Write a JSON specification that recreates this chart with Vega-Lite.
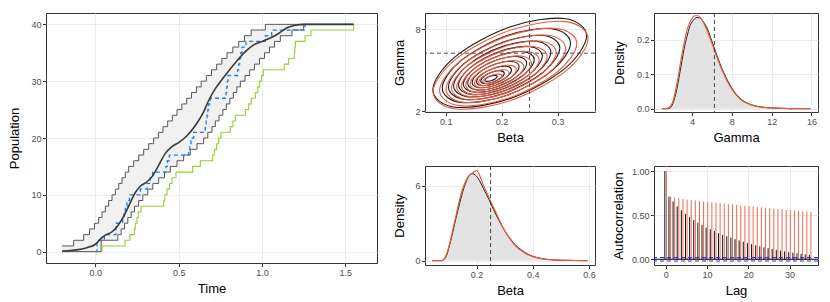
{
"$schema": "https://vega.github.io/schema/vega-lite/v6.json",
"padding": {"left": 8, "top": 12, "right": 3, "bottom": 3},
"config": {
 "font": "Liberation Sans",
 "view": {"stroke": "#333333", "strokeWidth": 1},
 "axis": {"domain": false, "grid": true, "gridColor": "#ebebeb", "gridWidth": 1, "tickColor": "#333333", "tickSize": 3.5, "tickWidth": 1, "labelFont": "Liberation Sans", "labelFontSize": 9, "labelColor": "#4d4d4d", "labelPadding": 1.5, "labelOverlap": false, "labelBound": false, "labelFlush": false, "titleFont": "Liberation Sans", "titleFontSize": 13, "titleFontWeight": "normal", "titleColor": "#000000", "titlePadding": 5}
},
"datasets": {
 "bounds": [
  {"x":-0.2,"hi":1,"lo":0},{"x":-0.13,"hi":2,"lo":0},{"x":-0.07,"hi":3,"lo":0},{"x":-0.035,"hi":4,"lo":0},{"x":-0.005,"hi":5,"lo":0},{"x":0.02,"hi":6,"lo":0},{"x":0.035,"hi":6,"lo":2},{"x":0.04,"hi":7,"lo":2},{"x":0.06,"hi":8,"lo":2},{"x":0.08,"hi":9,"lo":2},{"x":0.10,"hi":10,"lo":2},{"x":0.12,"hi":11,"lo":2},{"x":0.135,"hi":11,"lo":3},{"x":0.14,"hi":12,"lo":3},{"x":0.155,"hi":12,"lo":4},{"x":0.16,"hi":13,"lo":4},{"x":0.175,"hi":13,"lo":5},{"x":0.18,"hi":14,"lo":5},{"x":0.195,"hi":14,"lo":6},{"x":0.20,"hi":15,"lo":6},{"x":0.215,"hi":15,"lo":7},{"x":0.23,"hi":16,"lo":7},{"x":0.235,"hi":16,"lo":8},{"x":0.26,"hi":17,"lo":9},{"x":0.285,"hi":17,"lo":10},{"x":0.29,"hi":18,"lo":10},{"x":0.315,"hi":18,"lo":11},{"x":0.32,"hi":19,"lo":11},{"x":0.345,"hi":19,"lo":12},{"x":0.35,"hi":20,"lo":12},{"x":0.378,"hi":21,"lo":12},{"x":0.38,"hi":21,"lo":13},{"x":0.406,"hi":22,"lo":13},{"x":0.415,"hi":22,"lo":14},{"x":0.434,"hi":23,"lo":14},{"x":0.45,"hi":23,"lo":15},{"x":0.462,"hi":24,"lo":15},{"x":0.49,"hi":25,"lo":16},{"x":0.519,"hi":26,"lo":16},{"x":0.53,"hi":26,"lo":17},{"x":0.548,"hi":27,"lo":17},{"x":0.57,"hi":27,"lo":18},{"x":0.577,"hi":28,"lo":18},{"x":0.606,"hi":29,"lo":18},{"x":0.61,"hi":29,"lo":19},{"x":0.635,"hi":30,"lo":19},{"x":0.65,"hi":30,"lo":20},{"x":0.666,"hi":31,"lo":20},{"x":0.675,"hi":31,"lo":21},{"x":0.697,"hi":32,"lo":21},{"x":0.70,"hi":32,"lo":22},{"x":0.72,"hi":32,"lo":23},{"x":0.728,"hi":33,"lo":23},{"x":0.742,"hi":33,"lo":24},{"x":0.759,"hi":34,"lo":24},{"x":0.765,"hi":34,"lo":25},{"x":0.786,"hi":34,"lo":26},{"x":0.79,"hi":35,"lo":26},{"x":0.807,"hi":35,"lo":27},{"x":0.825,"hi":36,"lo":27},{"x":0.828,"hi":36,"lo":28},{"x":0.849,"hi":36,"lo":29},{"x":0.86,"hi":37,"lo":29},{"x":0.87,"hi":37,"lo":30},{"x":0.895,"hi":38,"lo":30},{"x":0.898,"hi":38,"lo":31},{"x":0.926,"hi":38,"lo":32},{"x":0.935,"hi":39,"lo":32},{"x":0.955,"hi":39,"lo":33},{"x":0.985,"hi":39,"lo":34},{"x":1.015,"hi":39,"lo":35},{"x":1.02,"hi":40,"lo":35},{"x":1.045,"hi":40,"lo":36},{"x":1.075,"hi":40,"lo":37},{"x":1.11,"hi":40,"lo":38},{"x":1.18,"hi":40,"lo":39},{"x":1.25,"hi":40,"lo":40},{"x":1.55,"hi":40,"lo":40}
 ],
 "mean": [
  {"x":-0.2,"y":0.1},{"x":-0.15,"y":0.2},{"x":-0.1,"y":0.35},{"x":-0.05,"y":0.7},{"x":0.0,"y":1.3},{"x":0.03,"y":2.2},{"x":0.06,"y":2.9},{"x":0.1,"y":3.5},{"x":0.13,"y":4.4},{"x":0.17,"y":6.2},{"x":0.2,"y":8.0},{"x":0.24,"y":10.4},{"x":0.27,"y":11.5},{"x":0.31,"y":12.3},{"x":0.34,"y":13.2},{"x":0.38,"y":15.2},{"x":0.42,"y":17.3},{"x":0.46,"y":18.5},{"x":0.5,"y":19.2},{"x":0.55,"y":20.4},{"x":0.6,"y":22.2},{"x":0.65,"y":24.6},{"x":0.68,"y":26.6},{"x":0.72,"y":28.7},{"x":0.76,"y":30.3},{"x":0.8,"y":31.8},{"x":0.85,"y":33.6},{"x":0.9,"y":35.2},{"x":0.95,"y":36.4},{"x":1.0,"y":37.0},{"x":1.05,"y":37.6},{"x":1.1,"y":38.4},{"x":1.15,"y":39.4},{"x":1.2,"y":39.85},{"x":1.25,"y":40},{"x":1.55,"y":40}
 ],
 "blue": [
  {"x":0.0,"y":0},{"x":0.01,"y":2},{"x":0.054,"y":3},{"x":0.124,"y":5},{"x":0.164,"y":6},{"x":0.172,"y":7},{"x":0.18,"y":8},{"x":0.19,"y":9},{"x":0.205,"y":10},{"x":0.27,"y":11},{"x":0.31,"y":12},{"x":0.33,"y":13},{"x":0.344,"y":14},{"x":0.424,"y":15},{"x":0.432,"y":16},{"x":0.444,"y":17},{"x":0.56,"y":18},{"x":0.567,"y":19},{"x":0.574,"y":20},{"x":0.59,"y":21},{"x":0.66,"y":22},{"x":0.665,"y":23},{"x":0.67,"y":24},{"x":0.675,"y":25},{"x":0.68,"y":26},{"x":0.69,"y":27},{"x":0.784,"y":28},{"x":0.788,"y":29},{"x":0.792,"y":30},{"x":0.796,"y":31},{"x":0.854,"y":32},{"x":0.86,"y":33},{"x":0.866,"y":34},{"x":0.872,"y":35},{"x":0.88,"y":36},{"x":0.904,"y":37},{"x":1.02,"y":38},{"x":1.058,"y":39},{"x":1.258,"y":40},{"x":1.262,"y":40}
 ],
 "green": [
  {"x":0.034,"y":0},{"x":0.04,"y":1},{"x":0.178,"y":2},{"x":0.208,"y":3},{"x":0.234,"y":4},{"x":0.24,"y":5},{"x":0.25,"y":6},{"x":0.258,"y":7},{"x":0.274,"y":8},{"x":0.41,"y":9},{"x":0.417,"y":10},{"x":0.43,"y":11},{"x":0.445,"y":12},{"x":0.46,"y":13},{"x":0.484,"y":14},{"x":0.584,"y":15},{"x":0.63,"y":16},{"x":0.704,"y":17},{"x":0.714,"y":18},{"x":0.728,"y":19},{"x":0.74,"y":20},{"x":0.754,"y":21},{"x":0.81,"y":22},{"x":0.825,"y":23},{"x":0.84,"y":24},{"x":0.9,"y":25},{"x":0.92,"y":26},{"x":0.935,"y":27},{"x":0.96,"y":28},{"x":0.975,"y":29},{"x":0.985,"y":30},{"x":0.998,"y":31},{"x":1.008,"y":32},{"x":1.134,"y":33},{"x":1.16,"y":34},{"x":1.194,"y":35},{"x":1.197,"y":36},{"x":1.2,"y":37},{"x":1.258,"y":38},{"x":1.294,"y":39},{"x":1.55,"y":40}
 ],
 "cont": [
  {"s":"k","l":0,"i":0,"x":0.192,"y":4.532},{"s":"k","l":0,"i":1,"x":0.1888,"y":4.618},{"s":"k","l":0,"i":2,"x":0.181,"y":4.576},{"s":"k","l":0,"i":3,"x":0.1732,"y":4.431},{"s":"k","l":0,"i":4,"x":0.170,"y":4.268},{"s":"k","l":0,"i":5,"x":0.1732,"y":4.182},{"s":"k","l":0,"i":6,"x":0.181,"y":4.224},{"s":"k","l":0,"i":7,"x":0.1888,"y":4.369},
  {"s":"k","l":1,"i":0,"x":0.2048,"y":4.772},{"s":"k","l":1,"i":1,"x":0.1986,"y":4.952},{"s":"k","l":1,"i":2,"x":0.1837,"y":4.863},{"s":"k","l":1,"i":3,"x":0.1688,"y":4.556},{"s":"k","l":1,"i":4,"x":0.1626,"y":4.210},{"s":"k","l":1,"i":5,"x":0.1688,"y":4.030},{"s":"k","l":1,"i":6,"x":0.1837,"y":4.119},{"s":"k","l":1,"i":7,"x":0.1986,"y":4.426},
  {"s":"k","l":2,"i":0,"x":0.2176,"y":5.010},{"s":"k","l":2,"i":1,"x":0.2085,"y":5.286},{"s":"k","l":2,"i":2,"x":0.1864,"y":5.150},{"s":"k","l":2,"i":3,"x":0.1643,"y":4.681},{"s":"k","l":2,"i":4,"x":0.1552,"y":4.154},{"s":"k","l":2,"i":5,"x":0.1643,"y":3.878},{"s":"k","l":2,"i":6,"x":0.1864,"y":4.014},{"s":"k","l":2,"i":7,"x":0.2085,"y":4.483},
  {"s":"k","l":3,"i":0,"x":0.2312,"y":5.264},{"s":"k","l":3,"i":1,"x":0.2189,"y":5.641},{"s":"k","l":3,"i":2,"x":0.1892,"y":5.456},{"s":"k","l":3,"i":3,"x":0.1595,"y":4.814},{"s":"k","l":3,"i":4,"x":0.1472,"y":4.094},{"s":"k","l":3,"i":5,"x":0.1595,"y":3.717},{"s":"k","l":3,"i":6,"x":0.1892,"y":3.902},{"s":"k","l":3,"i":7,"x":0.2189,"y":4.544},
  {"s":"k","l":4,"i":0,"x":0.2448,"y":5.518},{"s":"k","l":4,"i":1,"x":0.2294,"y":5.997},{"s":"k","l":4,"i":2,"x":0.1921,"y":5.761},{"s":"k","l":4,"i":3,"x":0.1548,"y":4.947},{"s":"k","l":4,"i":4,"x":0.1394,"y":4.034},{"s":"k","l":4,"i":5,"x":0.1548,"y":3.555},{"s":"k","l":4,"i":6,"x":0.1921,"y":3.791},{"s":"k","l":4,"i":7,"x":0.2294,"y":4.605},
  {"s":"k","l":5,"i":0,"x":0.2584,"y":5.772},{"s":"k","l":5,"i":1,"x":0.2398,"y":6.352},{"s":"k","l":5,"i":2,"x":0.1949,"y":6.067},{"s":"k","l":5,"i":3,"x":0.1500,"y":5.081},{"s":"k","l":5,"i":4,"x":0.1314,"y":3.974},{"s":"k","l":5,"i":5,"x":0.1500,"y":3.394},{"s":"k","l":5,"i":6,"x":0.1949,"y":3.679},{"s":"k","l":5,"i":7,"x":0.2398,"y":4.665},
  {"s":"k","l":6,"i":0,"x":0.2728,"y":6.042},{"s":"k","l":6,"i":1,"x":0.2509,"y":6.728},{"s":"k","l":6,"i":2,"x":0.1979,"y":6.390},{"s":"k","l":6,"i":3,"x":0.1449,"y":5.222},{"s":"k","l":6,"i":4,"x":0.1230,"y":3.910},{"s":"k","l":6,"i":5,"x":0.1449,"y":3.224},{"s":"k","l":6,"i":6,"x":0.1979,"y":3.562},{"s":"k","l":6,"i":7,"x":0.2509,"y":4.730},
  {"s":"k","l":7,"i":0,"x":0.2880,"y":6.325},{"s":"k","l":7,"i":1,"x":0.2625,"y":7.125},{"s":"k","l":7,"i":2,"x":0.2011,"y":6.732},{"s":"k","l":7,"i":3,"x":0.1397,"y":5.371},{"s":"k","l":7,"i":4,"x":0.1142,"y":3.843},{"s":"k","l":7,"i":5,"x":0.1397,"y":3.043},{"s":"k","l":7,"i":6,"x":0.2011,"y":3.436},{"s":"k","l":7,"i":7,"x":0.2625,"y":4.797},
  {"s":"k","l":8,"i":0,"x":0.3041,"y":6.624},{"s":"k","l":8,"i":1,"x":0.2749,"y":7.543},{"s":"k","l":8,"i":2,"x":0.2045,"y":7.091},{"s":"k","l":8,"i":3,"x":0.1341,"y":5.527},{"s":"k","l":8,"i":4,"x":0.1049,"y":3.772},{"s":"k","l":8,"i":5,"x":0.1341,"y":2.853},{"s":"k","l":8,"i":6,"x":0.2045,"y":3.305},{"s":"k","l":8,"i":7,"x":0.2749,"y":4.869},
  {"s":"k","l":9,"i":0,"x":0.3232,"y":6.983},{"s":"k","l":9,"i":1,"x":0.2896,"y":8.045},{"s":"k","l":9,"i":2,"x":0.2085,"y":7.522},{"s":"k","l":9,"i":3,"x":0.1274,"y":5.715},{"s":"k","l":9,"i":4,"x":0.0938,"y":3.687},{"s":"k","l":9,"i":5,"x":0.1274,"y":2.625},{"s":"k","l":9,"i":6,"x":0.2085,"y":3.148},{"s":"k","l":9,"i":7,"x":0.2896,"y":4.955},
  {"s":"k","l":10,"i":0,"x":0.3520,"y":7.521},{"s":"k","l":10,"i":1,"x":0.3117,"y":8.797},{"s":"k","l":10,"i":2,"x":0.2145,"y":8.169},{"s":"k","l":10,"i":3,"x":0.1173,"y":5.997},{"s":"k","l":10,"i":4,"x":0.0770,"y":3.559},{"s":"k","l":10,"i":5,"x":0.1173,"y":2.283},{"s":"k","l":10,"i":6,"x":0.2145,"y":2.911},{"s":"k","l":10,"i":7,"x":0.3117,"y":5.083},
  {"s":"r","l":0,"i":0,"x":0.2005,"y":4.576},{"s":"r","l":0,"i":1,"x":0.1955,"y":4.709},{"s":"r","l":0,"i":2,"x":0.1834,"y":4.643},{"s":"r","l":0,"i":3,"x":0.1713,"y":4.418},{"s":"r","l":0,"i":4,"x":0.1663,"y":4.166},{"s":"r","l":0,"i":5,"x":0.1713,"y":4.033},{"s":"r","l":0,"i":6,"x":0.1834,"y":4.099},{"s":"r","l":0,"i":7,"x":0.1955,"y":4.324},
  {"s":"r","l":1,"i":0,"x":0.2133,"y":4.804},{"s":"r","l":1,"i":1,"x":0.2053,"y":5.030},{"s":"r","l":1,"i":2,"x":0.1861,"y":4.919},{"s":"r","l":1,"i":3,"x":0.1669,"y":4.535},{"s":"r","l":1,"i":4,"x":0.1589,"y":4.104},{"s":"r","l":1,"i":5,"x":0.1669,"y":3.878},{"s":"r","l":1,"i":6,"x":0.1861,"y":3.989},{"s":"r","l":1,"i":7,"x":0.2053,"y":4.373},
  {"s":"r","l":2,"i":0,"x":0.2261,"y":5.032},{"s":"r","l":2,"i":1,"x":0.2152,"y":5.352},{"s":"r","l":2,"i":2,"x":0.1888,"y":5.194},{"s":"r","l":2,"i":3,"x":0.1624,"y":4.651},{"s":"r","l":2,"i":4,"x":0.1515,"y":4.040},{"s":"r","l":2,"i":5,"x":0.1624,"y":3.720},{"s":"r","l":2,"i":6,"x":0.1888,"y":3.878},{"s":"r","l":2,"i":7,"x":0.2152,"y":4.421},
  {"s":"r","l":3,"i":0,"x":0.2398,"y":5.275},{"s":"r","l":3,"i":1,"x":0.2257,"y":5.694},{"s":"r","l":3,"i":2,"x":0.1917,"y":5.488},{"s":"r","l":3,"i":3,"x":0.1577,"y":4.774},{"s":"r","l":3,"i":4,"x":0.1436,"y":3.973},{"s":"r","l":3,"i":5,"x":0.1577,"y":3.554},{"s":"r","l":3,"i":6,"x":0.1917,"y":3.760},{"s":"r","l":3,"i":7,"x":0.2257,"y":4.474},
  {"s":"r","l":4,"i":0,"x":0.2534,"y":5.516},{"s":"r","l":4,"i":1,"x":0.2362,"y":6.035},{"s":"r","l":4,"i":2,"x":0.1946,"y":5.779},{"s":"r","l":4,"i":3,"x":0.1530,"y":4.897},{"s":"r","l":4,"i":4,"x":0.1358,"y":3.906},{"s":"r","l":4,"i":5,"x":0.1530,"y":3.387},{"s":"r","l":4,"i":6,"x":0.1946,"y":3.643},{"s":"r","l":4,"i":7,"x":0.2362,"y":4.525},
  {"s":"r","l":5,"i":0,"x":0.2671,"y":5.759},{"s":"r","l":5,"i":1,"x":0.2467,"y":6.377},{"s":"r","l":5,"i":2,"x":0.1975,"y":6.073},{"s":"r","l":5,"i":3,"x":0.1483,"y":5.021},{"s":"r","l":5,"i":4,"x":0.1279,"y":3.839},{"s":"r","l":5,"i":5,"x":0.1483,"y":3.221},{"s":"r","l":5,"i":6,"x":0.1975,"y":3.525},{"s":"r","l":5,"i":7,"x":0.2467,"y":4.577},
  {"s":"r","l":6,"i":0,"x":0.2814,"y":6.014},{"s":"r","l":6,"i":1,"x":0.2577,"y":6.738},{"s":"r","l":6,"i":2,"x":0.2005,"y":6.382},{"s":"r","l":6,"i":3,"x":0.1433,"y":5.150},{"s":"r","l":6,"i":4,"x":0.1196,"y":3.768},{"s":"r","l":6,"i":5,"x":0.1433,"y":3.044},{"s":"r","l":6,"i":6,"x":0.2005,"y":3.400},{"s":"r","l":6,"i":7,"x":0.2577,"y":4.632},
  {"s":"r","l":7,"i":0,"x":0.2975,"y":6.299},{"s":"r","l":7,"i":1,"x":0.2701,"y":7.140},{"s":"r","l":7,"i":2,"x":0.2039,"y":6.726},{"s":"r","l":7,"i":3,"x":0.1377,"y":5.295},{"s":"r","l":7,"i":4,"x":0.1103,"y":3.689},{"s":"r","l":7,"i":5,"x":0.1377,"y":2.848},{"s":"r","l":7,"i":6,"x":0.2039,"y":3.262},{"s":"r","l":7,"i":7,"x":0.2701,"y":4.693},
  {"s":"r","l":8,"i":0,"x":0.3144,"y":6.599},{"s":"r","l":8,"i":1,"x":0.2831,"y":7.563},{"s":"r","l":8,"i":2,"x":0.2075,"y":7.089},{"s":"r","l":8,"i":3,"x":0.1319,"y":5.448},{"s":"r","l":8,"i":4,"x":0.1006,"y":3.607},{"s":"r","l":8,"i":5,"x":0.1319,"y":2.643},{"s":"r","l":8,"i":6,"x":0.2075,"y":3.117},{"s":"r","l":8,"i":7,"x":0.2831,"y":4.758},
  {"s":"r","l":9,"i":0,"x":0.3345,"y":6.955},{"s":"r","l":9,"i":1,"x":0.2985,"y":8.065},{"s":"r","l":9,"i":2,"x":0.2118,"y":7.519},{"s":"r","l":9,"i":3,"x":0.1251,"y":5.629},{"s":"r","l":9,"i":4,"x":0.0891,"y":3.507},{"s":"r","l":9,"i":5,"x":0.1251,"y":2.397},{"s":"r","l":9,"i":6,"x":0.2118,"y":2.943},{"s":"r","l":9,"i":7,"x":0.2985,"y":4.833},
  {"s":"r","l":10,"i":0,"x":0.3545,"y":7.310},{"s":"r","l":10,"i":1,"x":0.3139,"y":8.568},{"s":"r","l":10,"i":2,"x":0.2160,"y":7.949},{"s":"r","l":10,"i":3,"x":0.1181,"y":5.810},{"s":"r","l":10,"i":4,"x":0.0775,"y":3.410},{"s":"r","l":10,"i":5,"x":0.1181,"y":2.152},{"s":"r","l":10,"i":6,"x":0.2160,"y":2.771},{"s":"r","l":10,"i":7,"x":0.3139,"y":4.910}
 ],
 "gk": [
  {"x":1.0,"y":0},{"x":1.5,"y":0},{"x":1.8,"y":0.002},{"x":2.0,"y":0.01},{"x":2.25,"y":0.03},{"x":2.5,"y":0.06},{"x":2.75,"y":0.1},{"x":3.0,"y":0.14},{"x":3.25,"y":0.18},{"x":3.5,"y":0.21},{"x":3.75,"y":0.237},{"x":4.0,"y":0.252},{"x":4.25,"y":0.261},{"x":4.5,"y":0.265},{"x":4.75,"y":0.264},{"x":5.0,"y":0.258},{"x":5.5,"y":0.235},{"x":6.0,"y":0.196},{"x":6.5,"y":0.155},{"x":7.0,"y":0.117},{"x":7.5,"y":0.086},{"x":8.0,"y":0.06},{"x":8.5,"y":0.04},{"x":9.0,"y":0.026},{"x":9.5,"y":0.017},{"x":10,"y":0.011},{"x":11,"y":0.005},{"x":12,"y":0.002},{"x":13,"y":0.001},{"x":14,"y":0},{"x":15.9,"y":0}
 ],
 "gr": [
  {"x":0.95,"y":0},{"x":1.5,"y":0.001},{"x":2.0,"y":0.015},{"x":2.5,"y":0.075},{"x":3.0,"y":0.16},{"x":3.5,"y":0.228},{"x":4.0,"y":0.262},{"x":4.3,"y":0.27},{"x":4.6,"y":0.27},{"x":5.0,"y":0.258},{"x":5.5,"y":0.228},{"x":6.0,"y":0.19},{"x":6.5,"y":0.15},{"x":7.0,"y":0.113},{"x":7.5,"y":0.082},{"x":8.0,"y":0.057},{"x":8.5,"y":0.038},{"x":9.0,"y":0.024},{"x":10,"y":0.01},{"x":11,"y":0.004},{"x":12,"y":0.002},{"x":13,"y":0.001},{"x":14,"y":0},{"x":15.9,"y":0}
 ],
 "bk": [
  {"x":0.043,"y":0},{"x":0.075,"y":0},{"x":0.085,"y":0.1},{"x":0.095,"y":0.5},{"x":0.105,"y":1.3},{"x":0.115,"y":2.2},{"x":0.125,"y":3.2},{"x":0.135,"y":4.1},{"x":0.145,"y":5.0},{"x":0.155,"y":5.8},{"x":0.165,"y":6.4},{"x":0.175,"y":6.8},{"x":0.185,"y":6.95},{"x":0.195,"y":6.85},{"x":0.205,"y":6.6},{"x":0.215,"y":6.2},{"x":0.225,"y":5.75},{"x":0.235,"y":5.3},{"x":0.245,"y":4.85},{"x":0.25,"y":4.6},{"x":0.26,"y":4.1},{"x":0.28,"y":3.2},{"x":0.30,"y":2.4},{"x":0.32,"y":1.75},{"x":0.34,"y":1.2},{"x":0.36,"y":0.85},{"x":0.38,"y":0.55},{"x":0.40,"y":0.35},{"x":0.43,"y":0.17},{"x":0.46,"y":0.08},{"x":0.5,"y":0.03},{"x":0.55,"y":0.008},{"x":0.594,"y":0}
 ],
 "br": [
  {"x":0.043,"y":0},{"x":0.075,"y":0},{"x":0.085,"y":0.15},{"x":0.095,"y":0.6},{"x":0.105,"y":1.4},{"x":0.115,"y":2.4},{"x":0.125,"y":3.4},{"x":0.135,"y":4.4},{"x":0.145,"y":5.3},{"x":0.155,"y":6.0},{"x":0.165,"y":6.5},{"x":0.175,"y":6.85},{"x":0.185,"y":7.0},{"x":0.195,"y":7.15},{"x":0.2,"y":7.2},{"x":0.205,"y":7.1},{"x":0.215,"y":6.6},{"x":0.225,"y":6.0},{"x":0.235,"y":5.5},{"x":0.245,"y":5.0},{"x":0.255,"y":4.5},{"x":0.265,"y":4.05},{"x":0.28,"y":3.3},{"x":0.30,"y":2.4},{"x":0.32,"y":1.7},{"x":0.34,"y":1.15},{"x":0.36,"y":0.78},{"x":0.38,"y":0.5},{"x":0.40,"y":0.32},{"x":0.43,"y":0.16},{"x":0.46,"y":0.08},{"x":0.5,"y":0.03},{"x":0.55,"y":0.01},{"x":0.594,"y":0}
 ],
 "acf": [
  {"lag":0,"k":1.0,"r":1.0,"z":0},{"lag":1,"k":0.71,"r":0.71,"z":0},{"lag":2,"k":0.655,"r":0.70,"z":0},{"lag":3,"k":0.6,"r":0.692,"z":0},{"lag":4,"k":0.555,"r":0.685,"z":0},{"lag":5,"k":0.515,"r":0.678,"z":0},{"lag":6,"k":0.48,"r":0.672,"z":0},{"lag":7,"k":0.445,"r":0.667,"z":0},{"lag":8,"k":0.415,"r":0.661,"z":0},{"lag":9,"k":0.39,"r":0.656,"z":0},{"lag":10,"k":0.36,"r":0.651,"z":0},{"lag":11,"k":0.34,"r":0.646,"z":0},{"lag":12,"k":0.32,"r":0.641,"z":0},{"lag":13,"k":0.295,"r":0.636,"z":0},{"lag":14,"k":0.275,"r":0.631,"z":0},{"lag":15,"k":0.26,"r":0.626,"z":0},{"lag":16,"k":0.245,"r":0.621,"z":0},{"lag":17,"k":0.228,"r":0.616,"z":0},{"lag":18,"k":0.213,"r":0.611,"z":0},{"lag":19,"k":0.198,"r":0.606,"z":0},{"lag":20,"k":0.183,"r":0.601,"z":0},{"lag":21,"k":0.17,"r":0.597,"z":0},{"lag":22,"k":0.158,"r":0.592,"z":0},{"lag":23,"k":0.146,"r":0.588,"z":0},{"lag":24,"k":0.135,"r":0.583,"z":0},{"lag":25,"k":0.125,"r":0.579,"z":0},{"lag":26,"k":0.115,"r":0.574,"z":0},{"lag":27,"k":0.106,"r":0.57,"z":0},{"lag":28,"k":0.097,"r":0.566,"z":0},{"lag":29,"k":0.089,"r":0.561,"z":0},{"lag":30,"k":0.081,"r":0.557,"z":0},{"lag":31,"k":0.074,"r":0.553,"z":0},{"lag":32,"k":0.068,"r":0.549,"z":0},{"lag":33,"k":0.062,"r":0.545,"z":0},{"lag":34,"k":0.056,"r":0.541,"z":0},{"lag":35,"k":0.051,"r":0.537,"z":0}
 ],
 "truth": [{"b": 0.25, "g": 6.25}],
 "zero": [{"h": 0}],
 "conf": [{"h": 0.02}, {"h": -0.02}]
},
"spacing": 15,
"hconcat": [
 {"width": 331, "height": 250, "layer": [
  {"data": {"name": "bounds"}, "mark": {"type": "area", "interpolate": "step-after", "color": "#f1f1f1"},
   "encoding": {
    "x": {"field": "x", "type": "quantitative", "title": "Time", "scale": {"domain": [-0.296, 1.69], "nice": false, "zero": false},
     "axis": {"labelOverlap": false, "titlePadding": 5, "values": [0,0.5,1,1.5], "format": ".1f"}},
    "y": {"field": "hi", "type": "quantitative", "title": "Population", "scale": {"domain": [-2, 42], "nice": false, "zero": false},
     "axis": {"labelOverlap": false, "titlePadding": 9, "values": [0,10,20,30,40], "format": "d"}},
    "y2": {"field": "lo"}
   }},
  {"data": {"name": "bounds"}, "mark": {"type": "line", "interpolate": "step-after", "color": "#555555", "strokeWidth": 1},
   "encoding": {"x": {"field": "x", "type": "quantitative", "title": "Time"}, "y": {"field": "hi", "type": "quantitative", "title": "Population"}}},
  {"data": {"name": "bounds"}, "mark": {"type": "line", "interpolate": "step-after", "color": "#555555", "strokeWidth": 1},
   "encoding": {"x": {"field": "x", "type": "quantitative", "title": "Time"}, "y": {"field": "lo", "type": "quantitative", "title": "Population"}}},
  {"data": {"name": "green"}, "mark": {"type": "line", "interpolate": "step-after", "color": "#9acd32", "strokeWidth": 1.1},
   "encoding": {"x": {"field": "x", "type": "quantitative", "title": "Time"}, "y": {"field": "y", "type": "quantitative", "title": "Population"}}},
  {"data": {"name": "blue"}, "mark": {"type": "line", "interpolate": "step-after", "color": "#1f7fe0", "strokeWidth": 1.3, "strokeDash": [4, 3]},
   "encoding": {"x": {"field": "x", "type": "quantitative", "title": "Time"}, "y": {"field": "y", "type": "quantitative", "title": "Population"}}},
  {"data": {"name": "mean"}, "mark": {"type": "line", "interpolate": "monotone", "color": "#3a3a3a", "strokeWidth": 1.6},
   "encoding": {"x": {"field": "x", "type": "quantitative", "title": "Time"}, "y": {"field": "y", "type": "quantitative", "title": "Population"}}}
 ]},
 {"vconcat": [
  {"hconcat": [
   {"width": 170, "height": 99, "layer": [
    {"data": {"name": "cont"}, "mark": {"type": "line", "interpolate": "cardinal-closed", "strokeWidth": 1.1},
     "encoding": {
      "x": {"field": "x", "type": "quantitative", "title": "Beta", "scale": {"domain": [0.063, 0.367], "nice": false, "zero": false},
       "axis": {"labelOverlap": false, "values": [0.1,0.2,0.3], "format": ".1f"}},
      "y": {"field": "y", "type": "quantitative", "title": "Gamma", "scale": {"domain": [1.93, 9.2], "nice": false, "zero": false},
       "axis": {"labelOverlap": false, "labelAngle": 0, "labelAlign": "right", "labelBaseline": "middle", "labelFlush": false, "titlePadding": 8, "values": [2,4,6,8], "format": "d"}},
      "color": {"field": "s", "type": "nominal", "scale": {"domain": ["k", "r"], "range": ["#1a1a1a", "#ec5a3e"]}, "legend": null},
      "detail": {"field": "l", "type": "nominal"},
      "order": {"field": "i", "type": "quantitative"}
     }},
    {"data": {"name": "truth"}, "mark": {"type": "rule", "strokeDash": [4, 3], "color": "#555555", "strokeWidth": 1}, "encoding": {"x": {"field": "b", "type": "quantitative", "title": "Beta"}}},
    {"data": {"name": "truth"}, "mark": {"type": "rule", "strokeDash": [4, 3], "color": "#555555", "strokeWidth": 1}, "encoding": {"y": {"field": "g", "type": "quantitative", "title": "Gamma"}}}
   ]},
   {"width": 164, "height": 99, "layer": [
    {"data": {"name": "gk"}, "mark": {"type": "area", "interpolate": "monotone", "color": "#e3e3e3"},
     "encoding": {
      "x": {"field": "x", "type": "quantitative", "title": "Gamma", "scale": {"domain": [0.18, 16.66], "nice": false, "zero": false},
       "axis": {"labelOverlap": false, "values": [4,8,12,16], "format": "d"}},
      "y": {"field": "y", "type": "quantitative", "title": "Density", "stack": null, "scale": {"domain": [-0.0097, 0.278], "nice": false, "zero": false},
       "axis": {"labelOverlap": false, "titlePadding": 10, "values": [0,0.1,0.2], "format": ".1f"}}
     }},
    {"data": {"name": "gk"}, "mark": {"type": "line", "interpolate": "monotone", "color": "#222222", "strokeWidth": 1},
     "encoding": {"x": {"field": "x", "type": "quantitative", "title": "Gamma"}, "y": {"field": "y", "type": "quantitative", "title": "Density"}}},
    {"data": {"name": "gr"}, "mark": {"type": "line", "interpolate": "monotone", "color": "#ec5a3e", "strokeWidth": 1.2},
     "encoding": {"x": {"field": "x", "type": "quantitative", "title": "Gamma"}, "y": {"field": "y", "type": "quantitative", "title": "Density"}}},
    {"data": {"name": "truth"}, "mark": {"type": "rule", "strokeDash": [4, 3], "color": "#444444", "strokeWidth": 1}, "encoding": {"x": {"field": "g", "type": "quantitative", "title": "Gamma"}}}
   ]}
  ], "spacing": 59, "bounds": "flush"},
  {"hconcat": [
   {"width": 170, "height": 99, "layer": [
    {"data": {"name": "bk"}, "mark": {"type": "area", "interpolate": "monotone", "color": "#e3e3e3"},
     "encoding": {
      "x": {"field": "x", "type": "quantitative", "title": "Beta", "scale": {"domain": [0.017, 0.621], "nice": false, "zero": false},
       "axis": {"labelOverlap": false, "values": [0.2,0.4,0.6], "format": ".1f"}},
      "y": {"field": "y", "type": "quantitative", "title": "Density", "stack": null, "scale": {"domain": [-0.35, 7.56], "nice": false, "zero": false},
       "axis": {"labelOverlap": false, "labelAngle": 0, "labelAlign": "right", "labelBaseline": "middle", "labelFlush": false, "titlePadding": 8, "values": [0,2,4,6], "format": "d"}}
     }},
    {"data": {"name": "bk"}, "mark": {"type": "line", "interpolate": "monotone", "color": "#222222", "strokeWidth": 1},
     "encoding": {"x": {"field": "x", "type": "quantitative", "title": "Beta"}, "y": {"field": "y", "type": "quantitative", "title": "Density"}}},
    {"data": {"name": "br"}, "mark": {"type": "line", "interpolate": "monotone", "color": "#ec5a3e", "strokeWidth": 1.2},
     "encoding": {"x": {"field": "x", "type": "quantitative", "title": "Beta"}, "y": {"field": "y", "type": "quantitative", "title": "Density"}}},
    {"data": {"name": "truth"}, "mark": {"type": "rule", "strokeDash": [4, 3], "color": "#444444", "strokeWidth": 1}, "encoding": {"x": {"field": "b", "type": "quantitative", "title": "Beta"}}}
   ]},
   {"width": 164, "height": 99, "layer": [
    {"data": {"name": "acf"}, "mark": {"type": "rule", "color": "#111111", "strokeWidth": 1, "xOffset": -0.8},
     "encoding": {
      "x": {"field": "lag", "type": "quantitative", "title": "Lag", "scale": {"domain": [-2.82, 36.9], "nice": false, "zero": false},
       "axis": {"labelOverlap": false, "values": [0,10,20,30], "format": "d"}},
      "y": {"field": "k", "type": "quantitative", "title": "Autocorrelation", "scale": {"domain": [-0.065, 1.057], "nice": false, "zero": false},
       "axis": {"labelOverlap": false, "titlePadding": 5.5, "values": [0,0.25,0.5,0.75,1], "format": ".2f"}},
      "y2": {"field": "z"}
     }},
    {"data": {"name": "acf"}, "mark": {"type": "rule", "color": "#ee6a50", "strokeWidth": 1, "xOffset": 0.8},
     "encoding": {"x": {"field": "lag", "type": "quantitative", "title": "Lag"}, "y": {"field": "r", "type": "quantitative", "title": "Autocorrelation"}, "y2": {"field": "z"}}},
    {"data": {"name": "zero"}, "mark": {"type": "rule", "color": "#000000", "strokeWidth": 1.2}, "encoding": {"y": {"field": "h", "type": "quantitative", "title": "Autocorrelation"}}},
    {"data": {"name": "conf"}, "mark": {"type": "rule", "color": "#3030e8", "strokeWidth": 1, "strokeDash": [4, 3]}, "encoding": {"y": {"field": "h", "type": "quantitative", "title": "Autocorrelation"}}}
   ]}
  ], "spacing": 59, "bounds": "flush"}
 ], "spacing": 20}
]
}
